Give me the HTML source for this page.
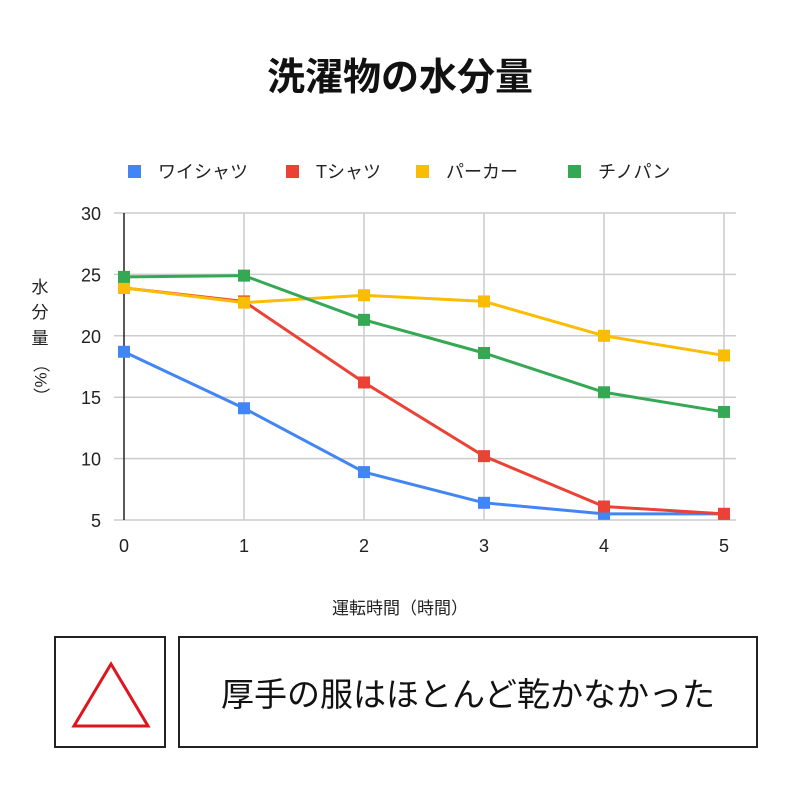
<!DOCTYPE html>
<html><head><meta charset="utf-8">
<style>
body{margin:0;background:#fff;font-family:"Liberation Sans","Noto Sans CJK JP",sans-serif;}
#wrap{position:relative;width:800px;height:800px;overflow:hidden;}
.box{position:absolute;border:2px solid #222;box-sizing:border-box;background:#fff;}
</style></head>
<body>
<div id="wrap">
<svg id="chart" width="800" height="630" style="position:absolute;left:0;top:0">
<text x="400" y="90" text-anchor="middle" font-size="38" font-weight="bold" fill="#111">洗濯物の水分量</text>
<text x="400" y="614" text-anchor="middle" font-size="17" fill="#222">運転時間（時間）</text>
<g font-size="17" fill="#222" text-anchor="middle">
<text x="40" y="293">水</text><text x="40" y="318">分</text><text x="40" y="344">量</text>
<text x="40" y="385" transform="rotate(90 40 380)">（%）</text>
</g>
<g id="grid"></g><g id="series"></g><g id="legend"></g>
</svg>
<div class="box" style="left:54px;top:636px;width:112px;height:112px">
<svg width="108" height="108"><polygon points="55,26 92,88 18,88" fill="none" stroke="#e0141e" stroke-width="3"/></svg>
</div>
<div class="box" style="left:178px;top:636px;width:580px;height:112px;display:flex;align-items:center;justify-content:center;font-size:33px;color:#111">厚手の服はほとんど乾かなかった</div>
</div>
<script>
const categories=[0,1,2,3,4,5];
const seriesNames=["ワイシャツ","Tシャツ","パーカー","チノパン"];
const seriesColors=["#4285f4","#ea4335","#fbbc04","#34a853"];
const yshirt=[18.7,14.1,8.9,6.4,5.5,5.5];
const tshirt=[23.9,22.8,16.2,10.2,6.1,5.5];
const hoodie=[23.9,22.7,23.3,22.8,20.0,18.4];
const chinos=[24.8,24.9,21.3,18.6,15.4,13.8];
const yTicks=[5,10,15,20,25,30];
const ns="http://www.w3.org/2000/svg";
const X=v=>124+(v-0)*120, Y=v=>520-(v-5)/25*307;
function mk(t,a,p){const e=document.createElementNS(ns,t);for(const k in a)e.setAttribute(k,a[k]);p.appendChild(e);return e;}
const grid=document.getElementById('grid');
yTicks.forEach(t=>{
 const l=mk('line',{x1:114,x2:736,y1:Y(t),y2:Y(t),stroke:'#ccc','stroke-width':1.5},grid);
 
 
 const tx=mk('text',{x:101,y:Y(t)+7,'text-anchor':'end','font-size':18,fill:'#222'},grid);tx.textContent=t;
 
 
});
categories.forEach(c=>{
 if(c>0){const l=mk('line',{x1:X(c),x2:X(c),y1:Y(30),y2:Y(5),stroke:'#ccc','stroke-width':1.5},grid);
 
 }
 const tx=mk('text',{x:X(c),y:552,'text-anchor':'middle','font-size':18,fill:'#222'},grid);tx.textContent=c;
 
 
});
const ax=mk('line',{x1:X(0),x2:X(0),y1:Y(30),y2:Y(5),stroke:'#222','stroke-width':1.5},grid);


const sg=document.getElementById('series');
[yshirt,tshirt,hoodie,chinos].forEach((d,i)=>{
 const g=mk('g',{},sg);
 
 
 const pl=mk('polyline',{points:d.map((v,j)=>X(categories[j])+','+Y(v)).join(' '),fill:'none',stroke:seriesColors[i],'stroke-width':3},g);
 
 
 d.forEach((v,j)=>{const r=mk('rect',{x:X(categories[j])-6,y:Y(v)-6,width:12,height:12,fill:seriesColors[i]},g);
  
  });
});
const lg=document.getElementById('legend');
const lx=[128,286,416,568];
seriesNames.forEach((n,i)=>{
 const g=mk('g',{},lg);
 
 
 mk('rect',{x:lx[i],y:165,width:13,height:13,fill:seriesColors[i]},g);
 const t=mk('text',{x:lx[i]+30,y:178,'font-size':18,fill:'#222'},g);t.textContent=n;
});
</script>
</body></html>
